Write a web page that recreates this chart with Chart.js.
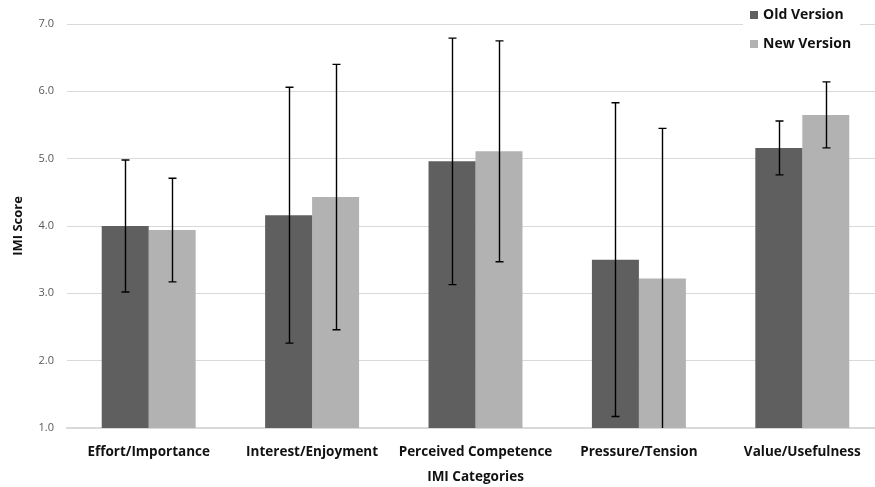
<!DOCTYPE html>
<html>
<head>
<meta charset="utf-8">
<script src="https://cdn.jsdelivr.net/npm/chart.js@4.4.1/dist/chart.umd.min.js"></script>
<style>
  html, body { margin: 0; padding: 0; background: #ffffff; overflow: hidden; }
  #wrap { width: 875px; height: 487px; overflow: hidden; position: relative; }
  canvas { display: block; }
</style>
</head>
<body>
<div id="wrap"><canvas id="c" width="890" height="487"></canvas></div>
<script>
// ---- data ----
const categories = ["Effort/Importance", "Interest/Enjoyment", "Perceived Competence", "Pressure/Tension", "Value/Usefulness"];
const seriesNames = ["Old Version", "New Version"];
const oldMeans = [4.00, 4.16, 4.96, 3.50, 5.16];
const newMeans = [3.94, 4.43, 5.11, 3.22, 5.65];
const oldSD = [0.98, 1.90, 1.83, 2.33, 0.40];
const newSD = [0.77, 1.97, 1.64, 2.23, 0.49];
const yTicks = [1.0, 2.0, 3.0, 4.0, 5.0, 6.0, 7.0];
const yAxisTitle = "IMI Score";
const xAxisTitle = "IMI Categories";

const oldColor = "#5f5f5f";
const newColor = "#b2b2b2";
const FONT = "'Open Sans', 'Liberation Sans', sans-serif";

const errorBars = {
  id: "errorBars",
  afterDatasetsDraw(chart) {
    const ctx = chart.ctx;
    const y = chart.scales.y;
    const area = chart.chartArea;
    ctx.save();
    ctx.beginPath();
    ctx.rect(area.left, area.top - 20, area.right - area.left, area.bottom - area.top + 20);
    ctx.clip();
    ctx.strokeStyle = "#000000";
    ctx.lineWidth = 1.4;
    chart.data.datasets.forEach((ds, di) => {
      const meta = chart.getDatasetMeta(di);
      meta.data.forEach((el, i) => {
        const m = ds.data[i], s = ds.sd[i];
        const yt = y.getPixelForValue(m + s);
        const yb = y.getPixelForValue(m - s);
        const x = Math.round(el.x) + 0.5;
        ctx.beginPath();
        ctx.moveTo(x, yt); ctx.lineTo(x, yb);
        ctx.moveTo(x - 4, yt); ctx.lineTo(x + 4, yt);
        ctx.moveTo(x - 4, yb); ctx.lineTo(x + 4, yb);
        ctx.stroke();
      });
    });
    ctx.restore();
  }
};

const customLegend = {
  id: "customLegend",
  afterDraw(chart) {
    const ctx = chart.ctx;
    ctx.save();
    ctx.fillStyle = "#ffffff";
    ctx.fillRect(743, 2, 117, 52);
    ctx.font = "bold 14px " + FONT;
    ctx.textBaseline = "middle";
    ctx.textAlign = "left";
    chart.data.datasets.forEach((ds, i) => {
      const cy = 15 + i * 29;
      ctx.fillStyle = ds.backgroundColor;
      ctx.fillRect(750, cy - 4, 8, 8);
      ctx.fillStyle = "#111111";
      ctx.fillText(ds.label, 763, cy);
    });
    ctx.restore();
  }
};

new Chart(document.getElementById("c"), {
  type: "bar",
  data: {
    labels: categories,
    datasets: [
      { label: seriesNames[0], data: oldMeans, sd: oldSD, backgroundColor: oldColor },
      { label: seriesNames[1], data: newMeans, sd: newSD, backgroundColor: newColor }
    ]
  },
  options: {
    responsive: false,
    animation: false,
    devicePixelRatio: 1,
    layout: { padding: { top: 24, right: 6, bottom: 0, left: 0 } },
    plugins: { legend: { display: false }, tooltip: { enabled: false } },
    datasets: { bar: { categoryPercentage: 0.575, barPercentage: 1.0 } },
    scales: {
      x: {
        grid: { display: false, drawTicks: false },
        border: { display: true, color: "#d9d9d9", width: 2 },
        ticks: { color: "#111111", font: { family: FONT, size: 13.5, weight: "bold" }, padding: 16, maxRotation: 0, autoSkip: false },
        title: { display: true, text: xAxisTitle, color: "#111111", font: { family: FONT, size: 13.5, weight: "bold" }, padding: { top: 0, bottom: 2 } },
        afterFit(s) { s.height = 59; }
      },
      y: {
        min: 1, max: 7,
        afterBuildTicks(s) { s.ticks = yTicks.map(v => ({ value: v })); },
        grid: { color: "#d9d9d9", lineWidth: 1, drawTicks: false },
        border: { display: false },
        ticks: { color: "#595959", font: { family: FONT, size: 11 }, padding: 13, callback: v => Number(v).toFixed(1) },
        title: { display: true, text: yAxisTitle, color: "#111111", font: { family: FONT, size: 13, weight: "bold" }, padding: { top: 10, bottom: 0 } },
        afterFit(s) { s.width = 67; }
      }
    }
  },
  plugins: [errorBars, customLegend]
});
</script>
</body>
</html>
